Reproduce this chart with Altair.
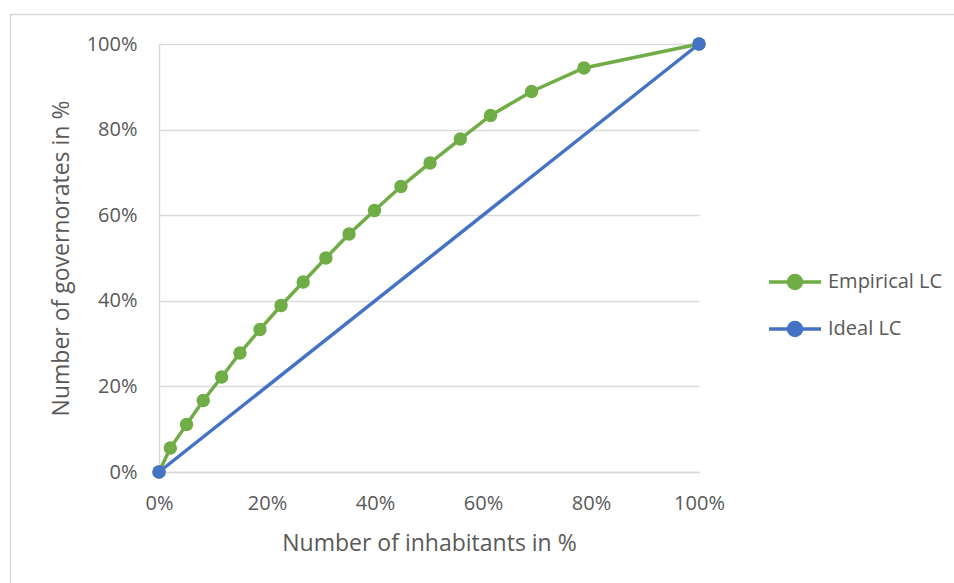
import altair as alt
import pandas as pd

# ---- data ----
emp_x = [0, 2.1, 5.1, 8.2, 11.6, 15.0, 18.7, 22.6, 26.7, 30.9, 35.2, 39.9,
         44.8, 50.2, 55.8, 61.4, 69.0, 78.7, 100]
emp_y = [0, 5.6, 11.1, 16.7, 22.2, 27.8, 33.3, 38.9, 44.4, 50.0, 55.6, 61.1,
         66.7, 72.2, 77.8, 83.3, 88.9, 94.4, 100]
ideal_x = [0, 100]
ideal_y = [0, 100]
series_names = ["Empirical LC", "Ideal LC"]
series_colors = ["#70AD47", "#4472C4"]
tick_values = [0, 20, 40, 60, 80, 100]

rows = []
for x, y in zip(emp_x, emp_y):
    rows.append({"series": series_names[0], "x": x, "y": y})
for x, y in zip(ideal_x, ideal_y):
    rows.append({"series": series_names[1], "x": x, "y": y})
df = pd.DataFrame(rows)

FONT = "Open Sans"
TXT = "#595959"
GRID = "#D9D9D9"
W, H = 540, 428
LEFT, TOP = 159, 44

scale = alt.Scale(domain=series_names, range=series_colors)
LEG_PATH = ("M-2,0L2,0M-0.5,0A0.5,0.5,0,1,1,0.5,0"
            "A0.5,0.5,0,1,1,-0.5,0Z")
legend = alt.Legend(
    title=None, orient="none", legendX=621, legendY=223,
    symbolType=LEG_PATH, symbolSize=676, symbolStrokeWidth=3.5,
    labelFont=FONT, labelFontSize=20, labelColor=TXT, labelOffset=18,
    rowPadding=18, padding=0,
)

xaxis = alt.Axis(
    values=tick_values, labelExpr="datum.value + '%'", grid=False,
    domainColor=GRID, domainWidth=1.5, ticks=False, tickSize=0,
    labelFlush=False, labelOverlap=False,
    labelFont=FONT, labelFontSize=20, labelColor=TXT, labelPadding=21,
    title="Number of inhabitants in %", titleFont=FONT, titleFontSize=23,
    titleFontWeight="normal", titleColor=TXT, titleY=71,
    titleBaseline="middle",
)
yaxis = alt.Axis(
    values=tick_values, labelExpr="datum.value + '%'", grid=True,
    gridColor=GRID, gridWidth=1.5, domainColor=GRID, domainWidth=1.5,
    ticks=False, tickSize=0, labelFlush=False, labelOverlap=False,
    labelFont=FONT, labelFontSize=20, labelColor=TXT, labelPadding=22,
    title="Number of governorates in %", titleFont=FONT, titleFontSize=23,
    titleFontWeight="normal", titleColor=TXT, titleX=-98, titleY=H / 2,
    titleAngle=-90, titleAlign="center", titleBaseline="middle",
)

base = alt.Chart(df).encode(
    x=alt.X("x:Q", scale=alt.Scale(domain=[0, 100], nice=False), axis=xaxis),
    y=alt.Y("y:Q", scale=alt.Scale(domain=[0, 100], nice=False), axis=yaxis),
)

lines = base.mark_line(strokeWidth=3.5).encode(
    stroke=alt.Stroke("series:N", scale=scale, legend=legend),
)
points = base.mark_point(filled=True, size=180, opacity=1).encode(
    fill=alt.Fill("series:N", scale=scale, legend=legend),
)

frame_df = pd.DataFrame({"a": [0]})
top_line = alt.Chart(frame_df).mark_rule(color=GRID, strokeWidth=1.5).encode(
    x=alt.value(10 - LEFT), x2=alt.value(954 - LEFT), y=alt.value(14.5 - TOP)
)
left_line = alt.Chart(frame_df).mark_rule(color=GRID, strokeWidth=1.5).encode(
    x=alt.value(10.5 - LEFT), y=alt.value(14 - TOP), y2=alt.value(583 - TOP)
)

chart = alt.layer(top_line, left_line, lines, points).properties(
    width=W, height=H,
    autosize=alt.AutoSizeParams(type="none"),
    padding={"left": LEFT, "top": TOP, "right": 954 - LEFT - W, "bottom": 583 - TOP - H},
    background="white",
).configure_view(stroke=None)

chart.save("out.html", embed_options={"renderer": "svg", "actions": False})
